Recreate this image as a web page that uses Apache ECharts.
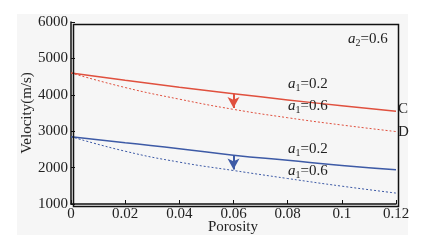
<!DOCTYPE html>
<html>
<head>
<meta charset="utf-8">
<script src="https://cdn.jsdelivr.net/npm/echarts@6/dist/echarts.min.js"></script>
<style>
  html, body { margin: 0; padding: 0; background: #ffffff; }
  #chart { width: 427px; height: 249px; }
</style>
</head>
<body>
<div id="chart"></div>
<script>
const porosity = [0, 0.02, 0.04, 0.06, 0.08, 0.1, 0.12];
const redSolid = [4600, 4400, 4210, 4030, 3860, 3700, 3550];
const redDotted = [4600, 4200, 3880, 3600, 3370, 3170, 2990];
const blueSolid = [2850, 2680, 2520, 2340, 2200, 2060, 1940];
const blueDotted = [2850, 2450, 2150, 1920, 1700, 1490, 1300];
const redArrow = [[0.06, 4030], [0.06, 3640]];
const blueArrow = [[0.06, 2340], [0.06, 1950]];

const RED = '#e0503e';
const BLUE = '#3d5aa6';
const FONT = 'Liberation Serif';

const pairs = ys => porosity.map((x, i) => [x, ys[i]]);

function arrowLine(coords, color) {
    return {
        silent: true,
        symbol: ['none', 'arrow'],
        symbolSize: [9, 11],
        label: { show: false },
        lineStyle: { color: color, width: 2, type: 'solid' },
        data: [[{ coord: coords[0] }, { coord: coords[1] }]]
    };
}

function aLabel(x, y, idx, val) {
    return {
        type: 'text', left: x, top: y, z: 10,
        style: {
            text: '{a|a}{s|' + idx + '}{t|=' + val + '}',
            rich: {
                a: { fontFamily: FONT, fontStyle: 'italic', fontSize: 15, fill: '#222' },
                s: { fontFamily: FONT, fontSize: 10, fill: '#222', verticalAlign: 'bottom', padding: [8, 0, 0, 0] },
                t: { fontFamily: FONT, fontSize: 15, fill: '#222' }
            }
        }
    };
}

const chart = echarts.init(document.getElementById('chart'));
chart.setOption({
    backgroundColor: '#ffffff',
    animation: false,
    grid: { left: 71, right: 31, top: 22, bottom: 45 },
    xAxis: {
        type: 'value', min: 0, max: 0.12, interval: 0.02,
        axisLine: { lineStyle: { color: '#111', width: 1.5 } },
        axisTick: { inside: true, length: 4, lineStyle: { color: '#111' } },
        axisLabel: { fontFamily: FONT, fontSize: 15, color: '#222', margin: 3 },
        splitLine: { show: false }
    },
    yAxis: {
        type: 'value', min: 1000, max: 6000, interval: 1000,
        axisLine: { lineStyle: { color: '#111', width: 1.5 } },
        axisTick: { inside: true, length: 4, lineStyle: { color: '#111' } },
        axisLabel: { fontFamily: FONT, fontSize: 15, color: '#222', margin: 3, formatter: v => String(v) },
        splitLine: { show: false }
    },
    graphic: [
        { type: 'rect', left: 17, top: 14, z: -10, silent: true,
          shape: { width: 391, height: 221 }, style: { fill: '#f6f6f6' } },
        { type: 'rect', left: 71, top: 22, z: 5, silent: true,
          shape: { width: 325, height: 182 }, style: { fill: 'none', stroke: '#111', lineWidth: 1.5 } },
        { type: 'text', x: 233, y: 227, silent: true,
          style: { text: 'Porosity', fontFamily: FONT, fontSize: 15, fill: '#222', align: 'center', verticalAlign: 'middle' } },
        { type: 'text', x: 27, y: 113, rotation: Math.PI / 2, silent: true,
          style: { text: 'Velocity(m/s)', fontFamily: FONT, fontSize: 15, fill: '#222', align: 'center', verticalAlign: 'middle' } },
        aLabel(348, 32, 2, '0.6'),
        aLabel(288, 77, 1, '0.2'),
        aLabel(288, 99, 1, '0.6'),
        aLabel(288, 142, 1, '0.2'),
        aLabel(288, 164, 1, '0.6'),
        { type: 'text', left: 398, top: 102, style: { text: 'C', fontFamily: FONT, fontSize: 15, fill: '#222' } },
        { type: 'text', left: 398, top: 125, style: { text: 'D', fontFamily: FONT, fontSize: 15, fill: '#222' } }
    ],
    series: [
        { type: 'line', data: pairs(redSolid), smooth: true, showSymbol: false,
          lineStyle: { color: RED, width: 1.5 }, markLine: arrowLine(redArrow, RED) },
        { type: 'line', data: pairs(redDotted), smooth: true, showSymbol: false,
          lineStyle: { color: RED, width: 1, type: [2, 2] } },
        { type: 'line', data: pairs(blueSolid), smooth: true, showSymbol: false,
          lineStyle: { color: BLUE, width: 1.5 }, markLine: arrowLine(blueArrow, BLUE) },
        { type: 'line', data: pairs(blueDotted), smooth: true, showSymbol: false,
          lineStyle: { color: BLUE, width: 1, type: [2, 2] } }
    ]
});
</script>
</body>
</html>
